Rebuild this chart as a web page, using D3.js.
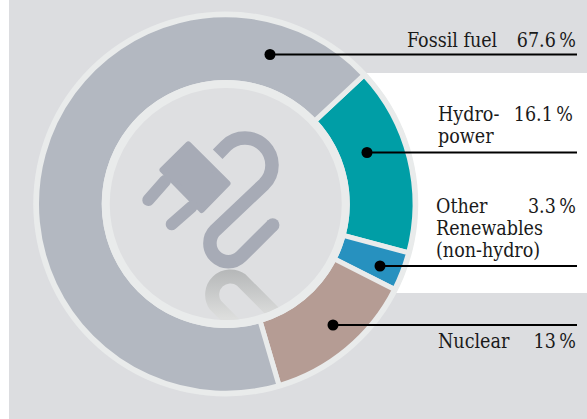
<!DOCTYPE html>
<html><head><meta charset="utf-8">
<script src="https://cdn.jsdelivr.net/npm/d3@7"></script>
<style>html,body{margin:0;padding:0;background:#fff}svg{display:block}
text{font-family:"DejaVu Serif Condensed","DejaVu Serif",serif;font-size:19.5px;fill:#1a1a1a}</style></head>
<body><svg id="c" width="587" height="419"></svg>
<script>
const categories = ["Hydro-power","Other Renewables (non-hydro)","Nuclear","Fossil fuel"];
const values = [16.1,3.3,13,67.6];
const valueLabels = ["16.1","3.3","13","67.6"];
const colors = ["#009ea6","#2791bf","#b59c94","#b3b8c1"];
const labelLines = [["Hydro-","power"],["Other","Renewables","(non-hydro)"],["Nuclear"],["Fossil fuel"]];

const svg = d3.select("#c");
const cx=225.75, cy=204;
svg.append("rect").attr("x",9).attr("y",0).attr("width",578).attr("height",419).attr("fill","#dcdde0");
svg.append("rect").attr("x",300).attr("y",73).attr("width",287).attr("height",220).attr("fill","#fff");

const defs = svg.append("defs");
const g = svg.append("g").attr("transform",`translate(${cx},${cy})`);
g.append("circle").attr("r",192.5).attr("fill","#e9ebeb");
const start = 47*Math.PI/180;
const pie = d3.pie().value(d=>d).sort(null).startAngle(start).endAngle(start+2*Math.PI);
const arc = d3.arc().innerRadius(121.5).outerRadius(189.25);
g.selectAll("path.s").data(pie(values)).join("path").attr("class","s")
  .attr("d",arc).attr("fill",(d,i)=>colors[i]).attr("stroke","#e9ebeb").attr("stroke-width",5);
g.append("circle").attr("r",120).attr("fill","#dedfe1").attr("stroke","#e9ebeb").attr("stroke-width",8);

// plug icon
const icon="#a7abb6";
const ic = svg.append("g");
ic.append("path").attr("d","M188.3,144.5 L227.5,183.3 L201.7,210 L162.5,170 Z").attr("fill",icon).attr("stroke",icon).attr("stroke-width",6).attr("stroke-linejoin","round");
ic.append("path").attr("d","M165,181 L148.3,200").attr("stroke",icon).attr("stroke-width",12).attr("stroke-linecap","round");
ic.append("path").attr("d","M191.7,206.7 L171.7,224.3").attr("stroke",icon).attr("stroke-width",12).attr("stroke-linecap","round");
ic.append("path").attr("fill","none").attr("stroke",icon).attr("stroke-width",13.5)
  .attr("d","M217.7,154.3 L225.9,145.9 A27,27 0 0 1 264.1,184.1 L215.3,230.3 A18.3,18.3 0 0 0 241.3,256.3 L272.7,225");
ic.append("circle").attr("cx",272.7).attr("cy",225).attr("r",6.75).attr("fill",icon);

// reflection
const lg = defs.append("linearGradient").attr("id","rf").attr("gradientUnits","userSpaceOnUse").attr("x1",0).attr("x2",0).attr("y1",268).attr("y2",318);
lg.append("stop").attr("offset",0).attr("stop-color","#b4b6b7");
lg.append("stop").attr("offset",1).attr("stop-color","#dddedd");
defs.append("clipPath").attr("id","ic").append("circle").attr("cx",cx).attr("cy",cy).attr("r",116);
svg.append("path").attr("clip-path","url(#ic)").attr("fill","none").attr("stroke","url(#rf)").attr("stroke-width",14)
  .attr("d","M250,340 L215.3,305 A18.3,18.3 0 0 1 241.3,280 L280,319");

// leaders
const leaderY=[152.5,266,325,54.5], leaderX=[367,380,333,270];
const baseY=[[120.5,142.5],[213,235,257],[348],[47]], textX=[438,436,438,407], valueX=[573,576,576,576];
const xEnd=577;
categories.forEach((c,i)=>{
  svg.append("line").attr("x1",leaderX[i]).attr("x2",xEnd).attr("y1",leaderY[i]).attr("y2",leaderY[i]).attr("stroke","#000").attr("stroke-width",2);
  svg.append("circle").attr("cx",leaderX[i]).attr("cy",leaderY[i]).attr("r",5.5).attr("fill","#000");
  labelLines[i].forEach((t,j)=>svg.append("text").attr("x",textX[i]).attr("y",baseY[i][j]).text(t));
  svg.append("text").attr("x",valueX[i]).attr("y",baseY[i][0]).attr("text-anchor","end").text(valueLabels[i]+"\u2009%");
});
</script></body></html>
